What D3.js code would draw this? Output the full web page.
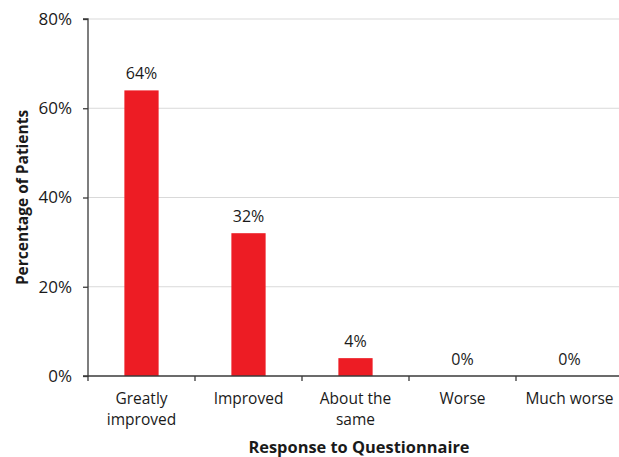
<!DOCTYPE html>
<html>
<head>
<meta charset="utf-8">
<script src="https://cdn.jsdelivr.net/npm/d3@7"></script>
<style>
  html, body { margin: 0; padding: 0; background: #fff; }
  svg { display: block; }
  text { font-family: "Open Sans", Lato, sans-serif; fill: #1a1a1a; }
</style>
</head>
<body>
<svg id="chart" width="619" height="457"></svg>
<script>
// Survey responses and the share of patients giving each one
const categories = [["Greatly", "improved"], ["Improved"], ["About the", "same"], ["Worse"], ["Much worse"]];
const percentages = [64, 32, 4, 0, 0];
const yTicks = [0, 20, 40, 60, 80];

const svg = d3.select("#chart");
const margin = { left: 88, top: 19, bottom: 81, right: -4 };
const W = 619, H = 457;

const x = d3.scaleBand()
  .domain(d3.range(categories.length))
  .range([margin.left, W - margin.right])
  .paddingInner(0.68)
  .paddingOuter(0.34);

const y = d3.scaleLinear().domain([0, 80]).range([H - margin.bottom, margin.top]);

// horizontal gridlines
svg.append("g")
  .selectAll("line")
  .data(yTicks.filter(d => d > 0))
  .join("line")
  .attr("x1", margin.left).attr("x2", W)
  .attr("y1", d => y(d)).attr("y2", d => y(d))
  .attr("stroke", "#d9d9d9").attr("stroke-width", 1.2);

// bars
svg.append("g")
  .selectAll("rect")
  .data(percentages)
  .join("rect")
  .attr("x", (d, i) => x(i))
  .attr("width", x.bandwidth())
  .attr("y", d => y(d))
  .attr("height", d => y(0) - y(d))
  .attr("fill", "#ed1c24");

// value labels
svg.append("g")
  .selectAll("text")
  .data(percentages)
  .join("text")
  .attr("x", (d, i) => x(i) + x.bandwidth() / 2)
  .attr("y", d => y(d) - 11)
  .attr("text-anchor", "middle")
  .style("font-size", "16px")
  .text(d => d + "%");

// y axis
const yAxis = svg.append("g")
  .attr("transform", `translate(${margin.left},0)`)
  .call(d3.axisLeft(y).tickValues(yTicks).tickSize(5).tickPadding(11).tickFormat(d => d + "%"));
yAxis.selectAll("path, line").attr("stroke", "#3a3a3a").attr("stroke-width", 1.3);
yAxis.select(".domain").attr("d", `M-5,${y(0)}H0V${y(80)}H-5`);
yAxis.selectAll("text").style("font-size", "17px").style("font-family", "'Open Sans', sans-serif").attr("fill", "#1a1a1a");

// x axis: baseline with tick marks at band boundaries
const step = x.step();
const bounds = d3.range(categories.length + 1).map(i => margin.left + i * step);
const xg = svg.append("g");
xg.append("line")
  .attr("x1", margin.left).attr("x2", W)
  .attr("y1", y(0)).attr("y2", y(0))
  .attr("stroke", "#3a3a3a").attr("stroke-width", 1.3);
xg.selectAll("line.tick")
  .data(bounds)
  .join("line")
  .attr("class", "tick")
  .attr("x1", d => d).attr("x2", d => d)
  .attr("y1", y(0)).attr("y2", y(0) + 5)
  .attr("stroke", "#3a3a3a").attr("stroke-width", 1.3);

// category labels (wrapped over two lines where needed)
const catText = xg.selectAll("text.cat")
  .data(categories)
  .join("text")
  .attr("class", "cat")
  .attr("text-anchor", "middle")
  .style("font-size", "15.5px")
  .attr("y", y(0) + 28);
catText.each(function (lines, i) {
  d3.select(this).selectAll("tspan")
    .data(lines)
    .join("tspan")
    .attr("x", x(i) + x.bandwidth() / 2)
    .attr("dy", (d, j) => j === 0 ? 0 : 21)
    .text(d => d);
});

// axis titles
svg.append("text")
  .attr("x", 359).attr("y", 453)
  .attr("text-anchor", "middle")
  .style("font-size", "16.4px").style("font-weight", "bold")
  .text("Response to Questionnaire");

svg.append("text")
  .attr("transform", `translate(28,${(y(0) + y(80)) / 2}) rotate(-90)`)
  .attr("text-anchor", "middle")
  .style("font-size", "15.5px").style("font-weight", "bold")
  .text("Percentage of Patients");
</script>
</body>
</html>
